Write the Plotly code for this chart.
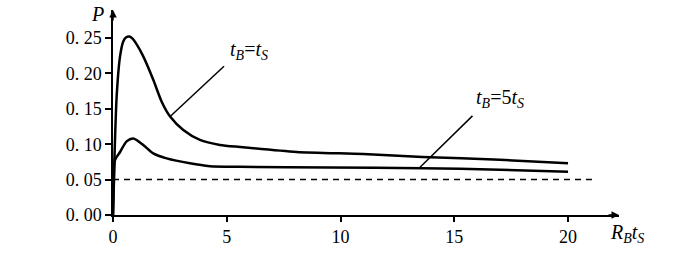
import plotly.graph_objects as go

# Data
x_ts = [0, 0.04, 0.16, 0.31, 0.45, 0.58, 0.72, 0.86, 1.0, 1.33, 1.77, 2.14, 2.51, 3.09, 3.82, 4.7, 5.58, 8.07, 11.0, 13.6, 17, 20]
y_ts = [0, 0.054, 0.167, 0.224, 0.245, 0.251, 0.252, 0.249, 0.243, 0.224, 0.191, 0.160, 0.139, 0.120, 0.106, 0.099, 0.096, 0.089, 0.086, 0.082, 0.078, 0.073]

x_5ts = [0, 0.04, 0.09, 0.31, 0.6, 0.89, 1.33, 1.77, 2.36, 3.38, 4.26, 5.58, 9.54, 13.6, 17, 20]
y_5ts = [0, 0.045, 0.078, 0.089, 0.104, 0.108, 0.099, 0.087, 0.080, 0.073, 0.069, 0.068, 0.067, 0.066, 0.064, 0.061]

ref_x = [0, 21.05]
ref_y = [0.05, 0.05]

leader1_x = [4.88, 2.51]
leader1_y = [0.210, 0.139]
leader2_x = [15.8, 13.45]
leader2_y = [0.140, 0.066]

x_ticks = [0, 5, 10, 15, 20]
y_ticks = [0, 0.05, 0.10, 0.15, 0.20, 0.25]
y_ticktext = ["0. 00", "0. 05", "0. 10", "0. 15", "0. 20", "0. 25"]

label1 = "<i>t</i><sub><i>B</i></sub>=<i>t</i><sub><i>S</i></sub>"
label2 = "<i>t</i><sub><i>B</i></sub>=5<i>t</i><sub><i>S</i></sub>"
x_title = "<i>R</i><sub><i>B</i></sub><i>t</i><sub><i>S</i></sub>"
y_title = "<i>P</i>"

XMAX = 22.24
YMAX = 0.2895
FONT = "Liberation Serif, Times New Roman, DejaVu Serif, serif"

fig = go.Figure()
fig.add_trace(go.Scatter(x=ref_x, y=ref_y, mode="lines",
                         line=dict(color="black", width=1.5, dash="6px,5px")))
fig.add_trace(go.Scatter(x=x_ts, y=y_ts, mode="lines",
                         line=dict(color="black", width=2.5, shape="spline", smoothing=0.7)))
fig.add_trace(go.Scatter(x=x_5ts, y=y_5ts, mode="lines",
                         line=dict(color="black", width=2.5, shape="spline", smoothing=0.7)))
fig.add_trace(go.Scatter(x=leader1_x, y=leader1_y, mode="lines",
                         line=dict(color="black", width=1.5)))
fig.add_trace(go.Scatter(x=leader2_x, y=leader2_y, mode="lines",
                         line=dict(color="black", width=1.5)))

annotations = [
    dict(x=5.05, y=0.233, xref="x", yref="y", text=label1, showarrow=False,
         xanchor="left", yanchor="middle", font=dict(family=FONT, size=20, color="black")),
    dict(x=15.87, y=0.164, xref="x", yref="y", text=label2, showarrow=False,
         xanchor="left", yanchor="middle", font=dict(family=FONT, size=20, color="black")),
    dict(x=0.978, y=-0.088, xref="paper", yref="paper", text=x_title, showarrow=False,
         xanchor="left", yanchor="middle", font=dict(family=FONT, size=20, color="black")),
    dict(x=-0.0306, y=0.98, xref="paper", yref="paper", text=y_title, showarrow=False,
         xanchor="center", yanchor="middle", font=dict(family=FONT, size=20, color="black")),
    # axis arrowheads
    dict(x=XMAX, y=0, xref="x", yref="y", ax=-12, ay=0, text="", showarrow=True,
         arrowhead=2, arrowsize=1, arrowwidth=1.5, arrowcolor="black"),
    dict(x=0, y=YMAX, xref="x", yref="y", ax=0, ay=12, text="", showarrow=True,
         arrowhead=2, arrowsize=1, arrowwidth=1.5, arrowcolor="black"),
]

fig.update_layout(
    width=700, height=259,
    margin=dict(l=113, r=81, t=10, b=44),
    plot_bgcolor="white", paper_bgcolor="white",
    showlegend=False,
    annotations=annotations,
    font=dict(family=FONT, size=18, color="black"),
)
fig.update_xaxes(range=[0, XMAX], showgrid=False, zeroline=False, showline=True,
                 linecolor="black", linewidth=1.5, ticks="outside", ticklen=5, tickwidth=1.5,
                 tickcolor="black", tickvals=x_ticks, ticktext=[str(v) for v in x_ticks],
                 tickfont=dict(family=FONT, size=18))
fig.update_yaxes(range=[0, YMAX], showgrid=False, zeroline=False, showline=True,
                 linecolor="black", linewidth=1.5, ticks="outside", ticklen=6, tickwidth=1.5,
                 tickcolor="black", tickvals=y_ticks, ticktext=y_ticktext,
                 tickfont=dict(family=FONT, size=18))

fig.write_html("out.html", config={"displayModeBar": False},
               post_script="document.body.style.margin='0';document.body.style.overflow='hidden';")
